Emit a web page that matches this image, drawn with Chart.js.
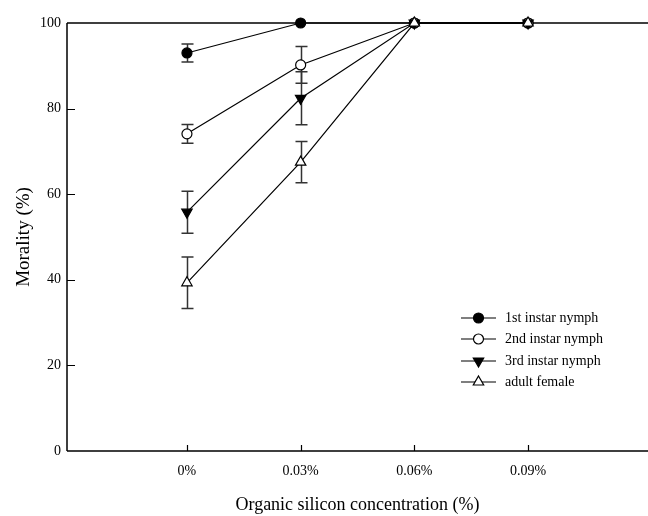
<!DOCTYPE html>
<html><head><meta charset="utf-8">
<script src="https://cdn.jsdelivr.net/npm/chart.js@4"></script>
<style>html,body{margin:0;padding:0;background:#fff}#wrap{width:648px;height:516px}</style>
</head><body><div id="wrap"><canvas id="c"></canvas></div>
<script>
const categories = ['0%', '0.03%', '0.06%', '0.09%'];
const yTicks = [0, 20, 40, 60, 80, 100];
const firstInstar = [93.0, 100, 100, 100];
const firstInstarErr = [2.1, 0, 0, 0];
const secondInstar = [74.1, 90.2, 100, 100];
const secondInstarErr = [2.2, 4.3, 0, 0];
const thirdInstar = [55.8, 82.4, 100, 100];
const thirdInstarErr = [4.9, 6.2, 0, 0];
const adultFemale = [39.3, 67.5, 100, 100];
const adultFemaleErr = [6.0, 4.8, 0, 0];
const seriesLabels = ['1st instar nymph', '2nd instar nymph', '3rd instar nymph', 'adult female'];

const FONT = 'Liberation Serif, Times New Roman, serif';
const toPts = arr => arr.map((v, i) => ({x: i, y: v}));

const mk = (label, data, err, style, fill, rot, radius, order) => ({
  label, data: toPts(data), err,
  borderColor: '#000', borderWidth: 1.2, backgroundColor: fill,
  pointStyle: style, pointRotation: rot, pointRadius: radius, pointHoverRadius: radius,
  pointBackgroundColor: fill, pointBorderColor: '#000', pointBorderWidth: 1.2,
  tension: 0, clip: false, order
});

const datasets = [
  mk(seriesLabels[0], firstInstar, firstInstarErr, 'circle', '#000', 0, 5, 3),
  mk(seriesLabels[1], secondInstar, secondInstarErr, 'circle', '#fff', 0, 5, 2),
  mk(seriesLabels[2], thirdInstar, thirdInstarErr, 'triangle', '#000', 180, 6, 1),
  mk(seriesLabels[3], adultFemale, adultFemaleErr, 'triangle', '#fff', 0, 6, 0)
];

const decor = {
  id: 'decor',
  beforeDatasetsDraw(chart) {
    const {ctx, chartArea: a, scales: {x, y}} = chart;
    ctx.save();
    ctx.strokeStyle = '#000';
    ctx.lineWidth = 1.5;
    ctx.beginPath();
    ctx.moveTo(a.left, a.top); ctx.lineTo(a.right, a.top);
    ctx.moveTo(a.left, a.top); ctx.lineTo(a.left, a.bottom);
    ctx.moveTo(a.left, a.bottom); ctx.lineTo(a.right, a.bottom);
    ctx.stroke();
    ctx.lineWidth = 1.2;
    ctx.beginPath();
    yTicks.forEach(v => { if (v > 0 && v < 100) { const py = Math.round(y.getPixelForValue(v)) + 0.5; ctx.moveTo(a.left, py); ctx.lineTo(a.left + 8, py); } });
    categories.forEach((c, i) => { const px = Math.round(x.getPixelForValue(i)) + 0.5; ctx.moveTo(px, a.bottom); ctx.lineTo(px, a.bottom - 6); });
    ctx.stroke();
    // error bars
    ctx.strokeStyle = '#333';
    ctx.lineWidth = 1.5;
    chart.data.datasets.forEach(ds => {
      ds.data.forEach((p, i) => {
        const e = ds.err[i];
        if (!e) return;
        const px = Math.round(x.getPixelForValue(p.x)) + 0.5;
        const y1 = y.getPixelForValue(p.y + e), y2 = y.getPixelForValue(p.y - e);
        ctx.beginPath();
        ctx.moveTo(px, y1); ctx.lineTo(px, y2);
        ctx.moveTo(px - 6, y1); ctx.lineTo(px + 6, y1);
        ctx.moveTo(px - 6, y2); ctx.lineTo(px + 6, y2);
        ctx.stroke();
      });
    });
    ctx.restore();
  },
  afterDraw(chart) {
    const {ctx} = chart;
    ctx.save();
    const lx0 = 461, lx1 = 496, tx = 505, rows = [318, 339, 361, 382];
    chart.data.datasets.forEach((ds, i) => {
      const yy = rows[i];
      ctx.strokeStyle = '#000'; ctx.lineWidth = 1.2;
      ctx.beginPath(); ctx.moveTo(lx0, yy); ctx.lineTo(lx1, yy); ctx.stroke();
      ctx.fillStyle = ds.pointBackgroundColor; ctx.strokeStyle = '#000';
      Chart.helpers.drawPoint(ctx, {pointStyle: ds.pointStyle, rotation: ds.pointRotation, radius: ds.pointRadius, borderWidth: 1.2}, (lx0 + lx1) / 2, yy);
      ctx.fillStyle = '#000';
      ctx.font = '14px ' + FONT;
      ctx.textBaseline = 'middle';
      ctx.fillText(ds.label, tx, yy);
    });
    ctx.restore();
  }
};

new Chart(document.getElementById('c'), {
  type: 'line',
  data: {datasets},
  options: {
    responsive: true, maintainAspectRatio: false, animation: false,
    layout: {autoPadding: false, padding: {top: 23, right: 0, left: 0, bottom: 0}},
    plugins: {legend: {display: false}, tooltip: {enabled: false}},
    scales: {
      x: {
        type: 'linear', min: -1.055, max: 4.055,
        afterBuildTicks: s => { s.ticks = categories.map((c, i) => ({value: i})); },
        afterFit: s => { s.height = 65; s.paddingLeft = 0; s.paddingRight = 0; },
        grid: {display: false, drawTicks: false},
        border: {display: false},
        ticks: {color: '#000', font: {family: FONT, size: 14}, padding: 12, autoSkip: false, maxRotation: 0,
          callback: v => categories[v]},
        title: {display: true, text: 'Organic silicon concentration (%)', color: '#000', font: {family: FONT, size: 18}, padding: {top: 4, bottom: 0}}
      },
      y: {
        min: 0, max: 100,
        afterBuildTicks: s => { s.ticks = yTicks.map(v => ({value: v})); },
        afterFit: s => { s.width = 67; },
        grid: {display: false, drawTicks: false},
        border: {display: false},
        ticks: {color: '#000', font: {family: FONT, size: 14}, padding: 6},
        title: {display: true, text: 'Morality (%)', color: '#000', font: {family: FONT, size: 19}, padding: {top: 13, bottom: 0}}
      }
    }
  },
  plugins: [decor]
});
</script></body></html>
